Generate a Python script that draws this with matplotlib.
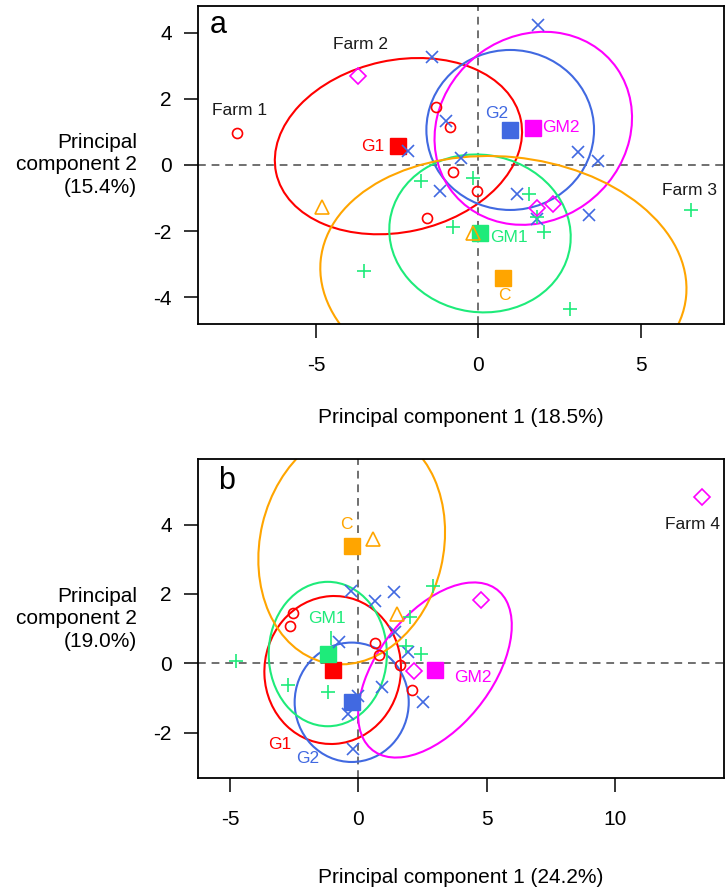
from matplotlib import pyplot as plt
from matplotlib.patches import Ellipse

plt.rcParams['font.family'] = ['Liberation Sans', 'DejaVu Sans']
plt.rcParams['axes.unicode_minus'] = False

RED = '#FF0000'
BLUE = '#4169E1'
GREEN = '#1EEB7A'
MAGENTA = '#FF00FF'
ORANGE = '#FFA500'
GREY = '#707070'

GROUPS = ['G1', 'G2', 'GM1', 'GM2', 'C']

# ---- panel a: sample scores per group ----
a_g1_x = [-7.42, -1.31, -0.87, -0.77, -1.57, -0.03]
a_g1_y = [0.98, 1.76, 1.16, -0.20, -1.61, -0.78]
a_g2_x = [-2.18, -1.43, -1.00, -1.18, 1.85, 3.08, 3.69, -0.54, 1.18, 1.80, 3.42]
a_g2_y = [0.43, 3.26, 1.34, -0.78, 4.24, 0.40, 0.12, 0.20, -0.88, -1.64, -1.51]
a_gm1_x = [-1.76, -0.79, -3.52, -0.15, 1.57, 1.80, 2.02, 6.54, 2.82]
a_gm1_y = [-0.48, -1.88, -3.20, -0.40, -0.87, -1.58, -2.02, -1.36, -4.37]
a_gm2_x = [-3.72, 1.80, 2.31]
a_gm2_y = [2.70, -1.31, -1.18]
a_c_x = [-4.82, -0.15]
a_c_y = [-1.28, -2.07]

# group centroids and ellipses (semi axes, angle in degrees)
a_cent_x = [-2.46, 0.98, 0.05, 1.69, 0.77]
a_cent_y = [0.57, 1.06, -2.07, 1.11, -3.43]
a_ell_a = [3.85, 2.58, 2.80, 3.15, 5.65]
a_ell_b = [2.60, 2.42, 2.38, 2.80, 3.68]
a_ell_ang = [12, 0, -8, 35, -5.5]

# label positions
a_lab_x = [-2.89, 0.56, 0.36, 1.95, 0.79]
a_lab_y = [0.57, 1.57, -2.18, 1.12, -3.96]
a_lab_ha = ['right', 'center', 'left', 'left', 'center']
a_farm_names = ['Farm 1', 'Farm 2', 'Farm 3']
a_farm_x = [-7.35, -3.64, 6.49]
a_farm_y = [1.64, 3.65, -0.76]

# ---- panel b ----
b_g1_x = [-2.55, -2.66, 0.65, 0.80, 1.63, 2.10]
b_g1_y = [1.46, 1.08, 0.59, 0.23, -0.05, -0.77]
b_g2_x = [-0.29, 0.65, 1.40, 1.42, -0.74, 1.93, 0.00, -0.39, -0.19, 0.91, 2.53]
b_g2_y = [2.09, 1.79, 2.07, 0.91, 0.63, 0.32, -0.93, -1.47, -2.47, -0.69, -1.11]
b_gm1_x = [2.92, 2.01, 1.87, 2.44, -4.77, -2.75, -1.17]
b_gm1_y = [2.24, 1.33, 0.50, 0.26, 0.07, -0.63, -0.82]
b_gm1_hidden_x = [-1.06]
b_gm1_hidden_y = [0.74]
b_gm2_x = [2.18, 4.77, 13.36]
b_gm2_y = [-0.21, 1.82, 4.80]
b_c_x = [0.56, 1.49]
b_c_y = [3.57, 1.42]

b_cent_x = [-1.00, -0.26, -1.19, 2.98, -0.26]
b_cent_y = [-0.19, -1.12, 0.27, -0.19, 3.39]
b_ell_a = [2.66, 2.22, 2.30, 3.42, 3.75]
b_ell_b = [2.13, 1.72, 2.08, 1.90, 3.29]
b_ell_ang = [3, 0, 0, 35.7, 31]

b_lab_x = [-3.05, -1.97, -1.23, 4.44, -0.48]
b_lab_y = [-2.35, -2.74, 1.30, -0.41, 3.99]
b_lab_ha = ['center', 'center', 'center', 'center', 'center']
b_farm_names = ['Farm 4']
b_farm_x = [13.01]
b_farm_y = [4.01]

COLORS = [RED, BLUE, GREEN, MAGENTA, ORANGE]
MARKERS = [
    dict(marker='o', ms=7.2, mfc='none'),
    dict(marker='x', ms=8.5),
    dict(marker='+', ms=10.5),
    dict(marker='D', ms=8.0, mfc='none'),
    dict(marker='^', ms=9.5, mfc='none'),
]


def draw_panel(ax, points, cent_x, cent_y, ell_a, ell_b, ell_ang,
               lab_x, lab_y, lab_ha, farm_names, farm_x, farm_y):
    ax.axvline(0, color=GREY, lw=1.4, ls=(0, (4, 3)), zorder=1)
    ax.axhline(0, color=GREY, lw=1.4, ls=(0, (4, 3)), zorder=1)
    for i, col in enumerate(COLORS):
        e = Ellipse((cent_x[i], cent_y[i]), 2 * ell_a[i], 2 * ell_b[i],
                    angle=ell_ang[i], fill=False, ec=col, lw=1.5, zorder=2)
        ax.add_patch(e)
    for i, col in enumerate(COLORS):
        ax.plot(cent_x[i], cent_y[i], 's', color=col, ms=11, zorder=3)
    for i, col in enumerate(COLORS):
        xs, ys = points[i]
        ax.plot(xs, ys, ls='none', color=col, mec=col, mew=1.2, zorder=4,
                **MARKERS[i])
    for i, col in enumerate(COLORS):
        ax.text(lab_x[i], lab_y[i], GROUPS[i], color=col, fontsize=12.5,
                ha=lab_ha[i], va='center', zorder=5)
    for name, x, y in zip(farm_names, farm_x, farm_y):
        ax.text(x, y, name, color='#1a1a1a', fontsize=12.5, ha='center',
                va='center', zorder=5)
    for s in ax.spines.values():
        s.set_linewidth(1.3)
    ax.tick_params(direction='out', length=10, width=1.1, labelsize=15)
    ax.tick_params(axis='x', pad=13)
    ax.tick_params(axis='y', pad=9)


fig = plt.figure(figsize=(7.25, 8.9), dpi=100)
W, H = 725, 890

ax_a = fig.add_axes([198.3 / W, 1 - 324 / H, 525.7 / W, 318 / H])
draw_panel(ax_a,
           [(a_g1_x, a_g1_y), (a_g2_x, a_g2_y), (a_gm1_x, a_gm1_y),
            (a_gm2_x, a_gm2_y), (a_c_x, a_c_y)],
           a_cent_x, a_cent_y, a_ell_a, a_ell_b, a_ell_ang,
           a_lab_x, a_lab_y, a_lab_ha, a_farm_names, a_farm_x, a_farm_y)
ax_a.set_xlim(-8.62, 7.56)
ax_a.set_ylim(-4.81, 4.81)
ax_a.set_xticks([-5, 0, 5])
ax_a.set_yticks([-4, -2, 0, 2, 4])
ax_a.set_xlabel('Principal component 1 (18.5%)', fontsize=15)
ax_a.xaxis.set_label_coords(0.5, -0.265)
ax_a.text(0.022, 0.916, 'a', transform=ax_a.transAxes, fontsize=22,
          ha='left', va='baseline')
fig.text(137 / W, 1 - 165 / H, 'Principal\ncomponent 2\n(15.4%)',
         ha='right', va='center', ma='right', fontsize=15, linespacing=1.25)

ax_b = fig.add_axes([198.3 / W, 1 - 778.3 / H, 525.7 / W, 319 / H])
draw_panel(ax_b,
           [(b_g1_x, b_g1_y), (b_g2_x, b_g2_y), (b_gm1_x, b_gm1_y),
            (b_gm2_x, b_gm2_y), (b_c_x, b_c_y)],
           b_cent_x, b_cent_y, b_ell_a, b_ell_b, b_ell_ang,
           b_lab_x, b_lab_y, b_lab_ha, b_farm_names, b_farm_x, b_farm_y)
ax_b.plot(b_gm1_hidden_x, b_gm1_hidden_y, ls='none', marker='|', ms=10.5,
          mew=1.2, color=GREEN, zorder=4)
ax_b.set_xlim(-6.23, 14.23)
ax_b.set_ylim(-3.31, 5.88)
ax_b.set_xticks([-5, 0, 5, 10])
ax_b.set_yticks([-2, 0, 2, 4])
ax_b.set_xlabel('Principal component 1 (24.2%)', fontsize=15)
ax_b.xaxis.set_label_coords(0.5, -0.28)
ax_b.text(0.038, 0.906, 'b', transform=ax_b.transAxes, fontsize=22,
          ha='left', va='baseline')
fig.text(137 / W, 1 - 618.8 / H, 'Principal\ncomponent 2\n(19.0%)',
         ha='right', va='center', ma='right', fontsize=15, linespacing=1.25)

fig.savefig('out.png', dpi=100)
